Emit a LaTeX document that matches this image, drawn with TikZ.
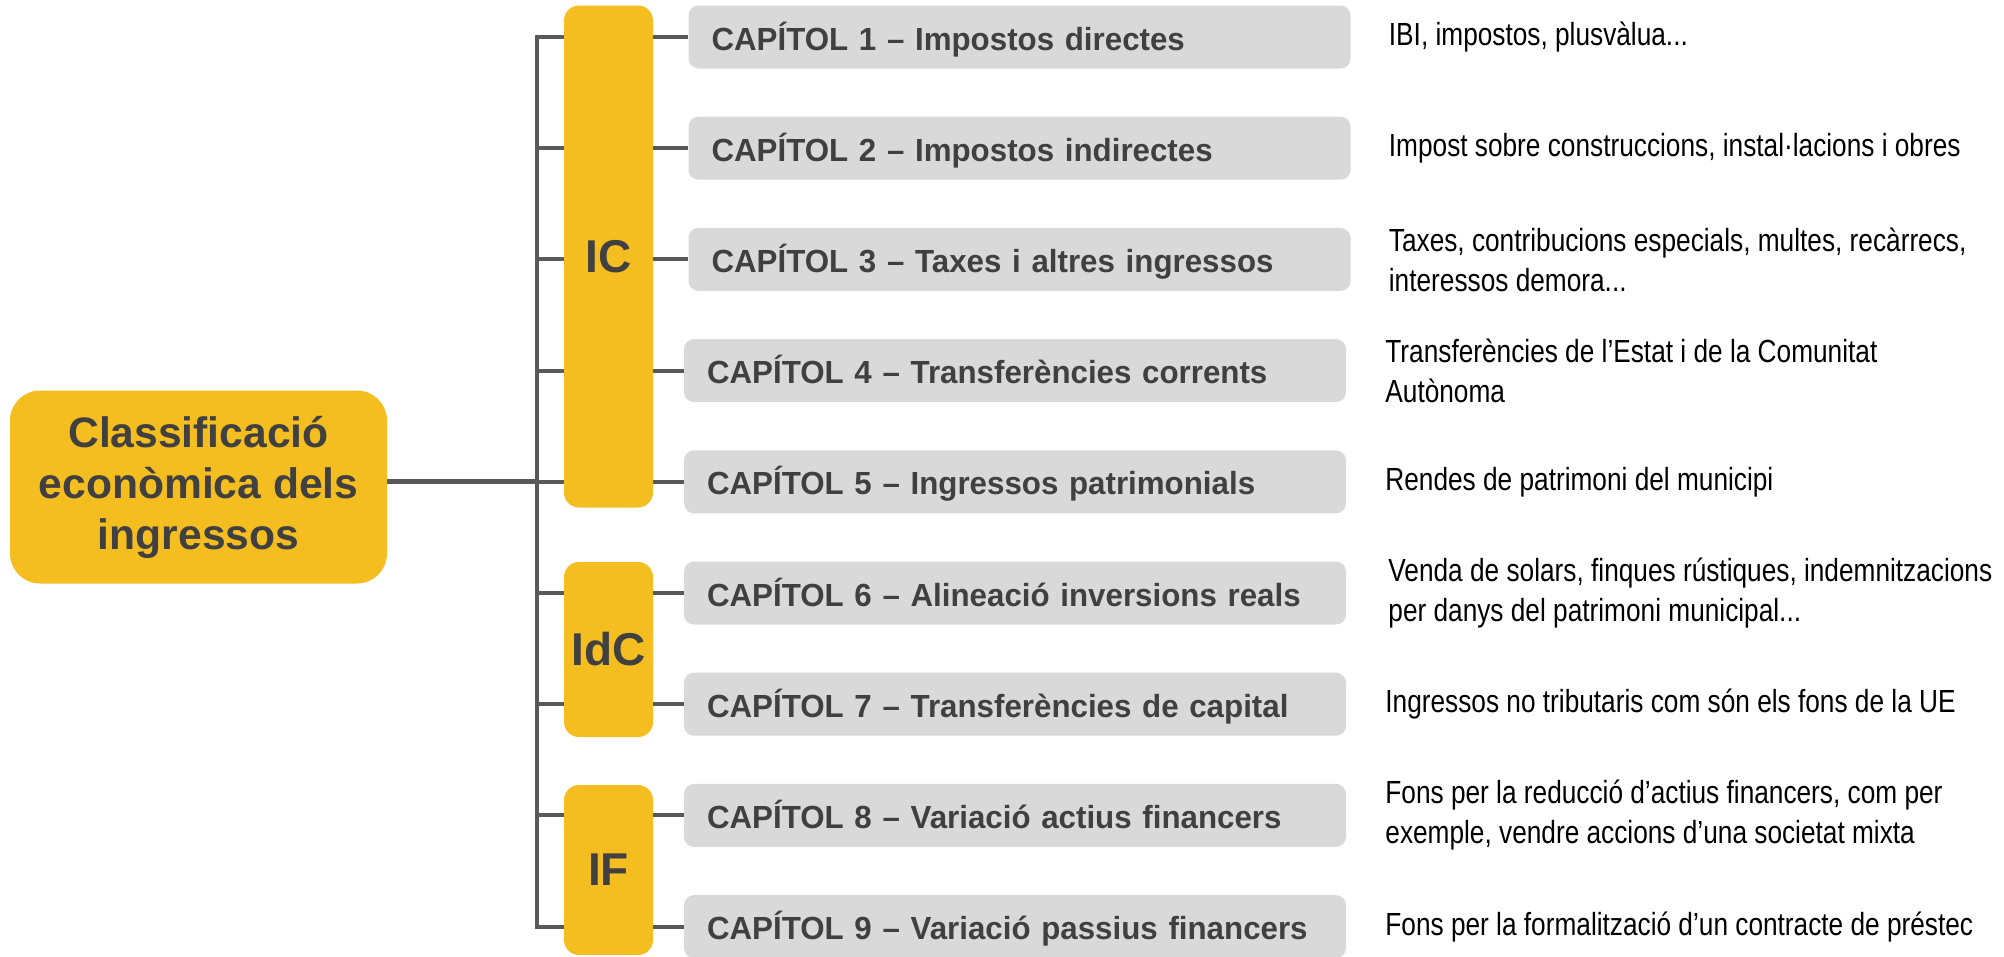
\documentclass[tikz,border=0pt]{standalone}
\usepackage{fontspec}
\setmainfont{Liberation Sans}
\newfontfamily\narrowfont[FakeStretch=0.82]{Liberation Sans}
\newfontfamily\chapfont[FakeStretch=0.978]{Liberation Sans}
\usetikzlibrary{positioning}
\definecolor{ocre}{HTML}{F4BD20}
\definecolor{boxgray}{HTML}{D9D9D9}
\definecolor{txtgray}{HTML}{404040}
\definecolor{linegray}{HTML}{595959}

\begin{document}
\begin{tikzpicture}[x=1pt,y=1pt,node distance=111.2pt,
  root node/.style={rectangle,rounded corners=30pt,fill=ocre,text=txtgray,minimum width=377pt,minimum height=193pt,align=center,font=\bfseries\fontsize{42.6}{51}\selectfont},
  group node/.style={rectangle,rounded corners=15pt,fill=ocre,text=txtgray,minimum width=89pt,font=\bfseries\fontsize{46}{50}\selectfont},
  chap node/.style={rectangle,rounded corners=10pt,fill=boxgray,text=txtgray,minimum height=63pt,text width=616pt,text height=26pt,text depth=0pt,inner xsep=23pt,align=left,font=\chapfont\bfseries\fontsize{32}{38}\selectfont},
  desc node/.style={inner sep=0pt,align=left,text=black,font=\narrowfont\fontsize{32}{40}\selectfont},
  branch/.style={draw=linegray,line width=4pt}]
\useasboundingbox (0,0) rectangle (2004,-956);

\node[root node] (root) at (198.5,-487) {Classificació\\econòmica dels\\ingressos}; % main box on the left

\node[chap node] (c1) at (1019.5,-37) {CAPÍTOL 1 – Impostos directes}; % first chapter, the rest hang below it
\node[chap node] (c2) [below of=c1] {CAPÍTOL 2 – Impostos indirectes};
\node[chap node] (c3) [below of=c2] {CAPÍTOL 3 – Taxes i altres ingressos};
\node[chap node] (c4) [below of=c3,xshift=-4.5pt] {CAPÍTOL 4 – Transferències corrents};
\node[chap node] (c5) [below of=c4] {CAPÍTOL 5 – Ingressos patrimonials};
\node[chap node] (c6) [below of=c5] {CAPÍTOL 6 – Alineació inversions reals};
\node[chap node] (c7) [below of=c6] {CAPÍTOL 7 – Transferències de capital};
\node[chap node] (c8) [below of=c7] {CAPÍTOL 8 – Variació actius financers};
\node[chap node] (c9) [below of=c8] {CAPÍTOL 9 – Variació passius financers};

\node[group node,minimum height=502pt] (ic) at (608.5,-256.5) {IC}; % income groups
\node[group node,minimum height=175pt] (idc) at (608.5,-649.5) {IdC};
\node[group node,minimum height=170pt] (if) at (608.5,-870) {IF};

\node[desc node] (d1) [right=38pt of c1] {IBI, impostos, plusvàlua...};
\node[desc node] (d2) [right=38pt of c2] {Impost sobre construccions, instal·lacions i obres};
\node[desc node] (d3) [right=38pt of c3] {Taxes, contribucions especials, multes, recàrrecs,\\interessos demora...};
\node[desc node] (d4) [right=39pt of c4] {Transferències de l’Estat i de la Comunitat\\Autònoma};
\node[desc node] (d5) [right=39pt of c5] {Rendes de patrimoni del municipi};
\node[desc node] (d6) [right=42pt of c6] {Venda de solars, finques rústiques, indemnitzacions\\per danys del patrimoni municipal...};
\node[desc node] (d7) [right=39pt of c7] {Ingressos no tributaris com són els fons de la UE};
\node[desc node] (d8) [right=39pt of c8] {Fons per la reducció d’actius financers, com per\\exemple, vendre accions d’una societat mixta};
\node[desc node] (d9) [right=39pt of c9] {Fons per la formalització d’un contracte de préstec};

\coordinate (trunk) at (537,0);
\draw[linegray,line width=5pt] (root.east |- c5.west) -- (trunk |- c5.west); % main connector
\draw[branch] (ic.west |- c1.west) -| (trunk |- c9.west) -- (if.west |- c9.west); % vertical trunk

\path[branch]
(trunk |- c2.west) edge (ic.west |- c2.west)
(trunk |- c3.west) edge (ic.west |- c3.west)
(trunk |- c4.west) edge (ic.west |- c4.west)
(trunk |- c5.west) edge (ic.west |- c5.west)
(trunk |- c6.west) edge (idc.west |- c6.west)
(trunk |- c7.west) edge (idc.west |- c7.west)
(trunk |- c8.west) edge (if.west |- c8.west)
(ic.east |- c1.west) edge (c1.west)
(ic.east |- c2.west) edge (c2.west)
(ic.east |- c3.west) edge (c3.west)
(ic.east |- c4.west) edge (c4.west)
(ic.east |- c5.west) edge (c5.west)
(idc.east |- c6.west) edge (c6.west)
(idc.east |- c7.west) edge (c7.west)
(if.east |- c8.west) edge (c8.west)
(if.east |- c9.west) edge (c9.west);
\end{tikzpicture}
\end{document}
